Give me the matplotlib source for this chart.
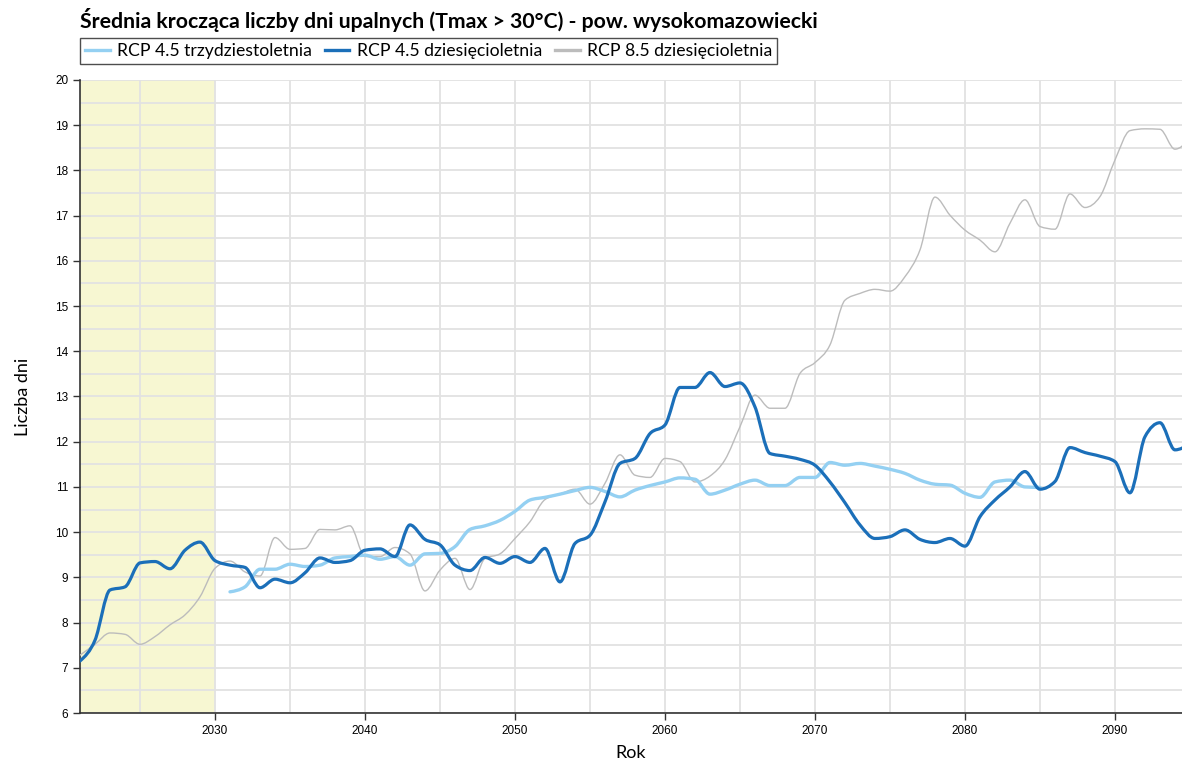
import numpy as np
import matplotlib.pyplot as plt
from matplotlib.path import Path
from matplotlib.patches import PathPatch
from matplotlib.lines import Line2D

# dane
lata = list(range(2021, 2096))

rcp45_10 = [7.15, 7.61, 8.72, 8.79, 9.32, 9.35, 9.19, 9.6, 9.78, 9.37,
            9.27, 9.22, 8.77, 8.96, 8.88, 9.1, 9.43, 9.33, 9.37, 9.6,
            9.63, 9.46, 10.16, 9.84, 9.72, 9.27, 9.15, 9.44, 9.31, 9.46,
            9.33, 9.64, 8.9, 9.75, 9.93, 10.67, 11.52, 11.63, 12.18, 12.37,
            13.2, 13.2, 13.53, 13.22, 13.3, 12.77, 11.74, 11.68, 11.61, 11.48,
            11.11, 10.65, 10.16, 9.86, 9.9, 10.05, 9.84, 9.77, 9.86, 9.69,
            10.34, 10.71, 11.0, 11.34, 10.95, 11.12, 11.87, 11.76, 11.68, 11.56,
            10.87, 12.11, 12.42, 11.82, 11.95]

lata_30 = list(range(2031, 2086))
rcp45_30 = [8.68, 8.79, 9.18, 9.18, 9.29, 9.24, 9.27, 9.43, 9.46, 9.49,
            9.4, 9.46, 9.27, 9.52, 9.53, 9.68, 10.06, 10.14, 10.26, 10.46,
            10.71, 10.77, 10.84, 10.92, 10.99, 10.9, 10.78, 10.93, 11.03, 11.11,
            11.2, 11.17, 10.84, 10.93, 11.06, 11.15, 11.03, 11.03, 11.21, 11.21,
            11.54, 11.48, 11.52, 11.46, 11.39, 11.3, 11.15, 11.06, 11.04, 10.86,
            10.77, 11.11, 11.15, 11.0, 10.99]

rcp85_10 = [7.28, 7.52, 7.77, 7.74, 7.52, 7.69, 7.95, 8.17, 8.57, 9.2,
            9.36, 9.12, 9.03, 9.88, 9.62, 9.64, 10.06, 10.05, 10.14, 9.46,
            9.46, 9.66, 9.52, 8.7, 9.16, 9.42, 8.73, 9.42, 9.52, 9.86,
            10.23, 10.72, 10.84, 10.95, 10.62, 11.08, 11.71, 11.26, 11.21, 11.63,
            11.56, 11.11, 11.24, 11.6, 12.33, 13.03, 12.74, 12.74, 13.51, 13.75,
            14.14, 15.13, 15.28, 15.37, 15.33, 15.65, 16.24, 17.41, 17.01, 16.68,
            16.46, 16.2, 16.83, 17.35, 16.76, 16.7, 17.48, 17.18, 17.42, 18.23,
            18.88, 18.92, 18.91, 18.47, 18.7]


def monotone_path(x, y):
    # krzywa jak d3.curveMonotoneX, rysowana jako krzywe Beziera
    x = np.asarray(x, float)
    y = np.asarray(y, float)
    h = np.diff(x)
    s = np.diff(y) / h
    t = np.zeros_like(y)
    for i in range(1, len(y) - 1):
        if s[i - 1] * s[i] <= 0:
            t[i] = 0
        else:
            p = (s[i - 1] * h[i] + s[i] * h[i - 1]) / (h[i - 1] + h[i])
            t[i] = (np.sign(s[i - 1]) + np.sign(s[i])) * min(abs(s[i - 1]), abs(s[i]), 0.5 * abs(p))
    t[0] = (3 * s[0] - t[1]) / 2
    t[-1] = (3 * s[-1] - t[-2]) / 2
    verts = [(x[0], y[0])]
    codes = [Path.MOVETO]
    for i in range(len(x) - 1):
        d = h[i] / 3
        verts += [(x[i] + d, y[i] + t[i] * d), (x[i + 1] - d, y[i + 1] - t[i + 1] * d), (x[i + 1], y[i + 1])]
        codes += [Path.CURVE4] * 3
    return Path(verts, codes)


c_jasny = '#94d0f2'
c_ciemny = '#1b6fb9'
c_szary = '#bcbcbc'

fig = plt.figure(figsize=(11.82, 7.62), dpi=100)
ax = fig.add_axes([80 / 1182, 49 / 762, 1102 / 1182, 633 / 762])

ax.axvspan(2021, 2030, color='#f7f7d2', zorder=0, lw=0)

ax.set_xlim(2021, 2094.47)
ax.set_ylim(6, 20)
ax.set_xticks(range(2030, 2095, 10))
ax.set_xticks(range(2025, 2095, 5), minor=True)
ax.set_yticks(range(6, 21))
ax.set_yticks(np.arange(6, 20.01, 0.5), minor=True)
ax.tick_params(axis='x', which='minor', length=0)
ax.tick_params(axis='y', which='minor', length=0)
ax.tick_params(which='major', length=5, width=1, color='#333333', labelsize=8.5)
for lab in ax.get_xticklabels() + ax.get_yticklabels():
    lab.set_fontfamily('Liberation Sans')
ax.grid(True, which='both', color='#e2e2e2', lw=1.3, zorder=1)
ax.set_axisbelow(True)
for sp in ['top', 'right']:
    ax.spines[sp].set_visible(False)
for sp in ['left', 'bottom']:
    ax.spines[sp].set_color('#333333')
    ax.spines[sp].set_linewidth(1.2)

for xs, ys, col, lw in [(lata, rcp85_10, c_szary, 1.0),
                        (lata_30, rcp45_30, c_jasny, 2.4),
                        (lata, rcp45_10, c_ciemny, 2.3)]:
    ax.add_patch(PathPatch(monotone_path(xs, ys), fill=False, edgecolor=col, lw=lw,
                           zorder=3, capstyle='round', joinstyle='round'))

ax.set_xlabel('Rok', fontfamily='Lato', fontsize=13, labelpad=6)
ax.set_ylabel('Liczba dni', fontfamily='Lato', fontsize=13, labelpad=17)

fig.text(80 / 1182, 1 - 20 / 762, 'Średnia krocząca liczby dni upalnych (Tmax > 30°C) - pow. wysokomazowiecki',
         fontfamily='Lato', fontweight='bold', fontsize=15.3, va='center', ha='left')

uchwyty = [Line2D([], [], color=c_jasny, lw=2.4),
           Line2D([], [], color=c_ciemny, lw=2.4),
           Line2D([], [], color=c_szary, lw=2.4)]
leg = fig.legend(uchwyty, ['RCP 4.5 trzydziestoletnia', 'RCP 4.5 dziesięcioletnia', 'RCP 8.5 dziesięcioletnia'],
                 loc='center left', bbox_to_anchor=(80 / 1182, 1 - 51 / 762), ncol=3,
                 prop={'family': 'Lato', 'size': 12.7}, frameon=True, fancybox=False,
                 edgecolor='#222222', borderpad=0.28, handlelength=1.4, handletextpad=0.4,
                 columnspacing=0.75, borderaxespad=0)
leg.get_frame().set_linewidth(1.0)

fig.savefig('out.png', dpi=100)
